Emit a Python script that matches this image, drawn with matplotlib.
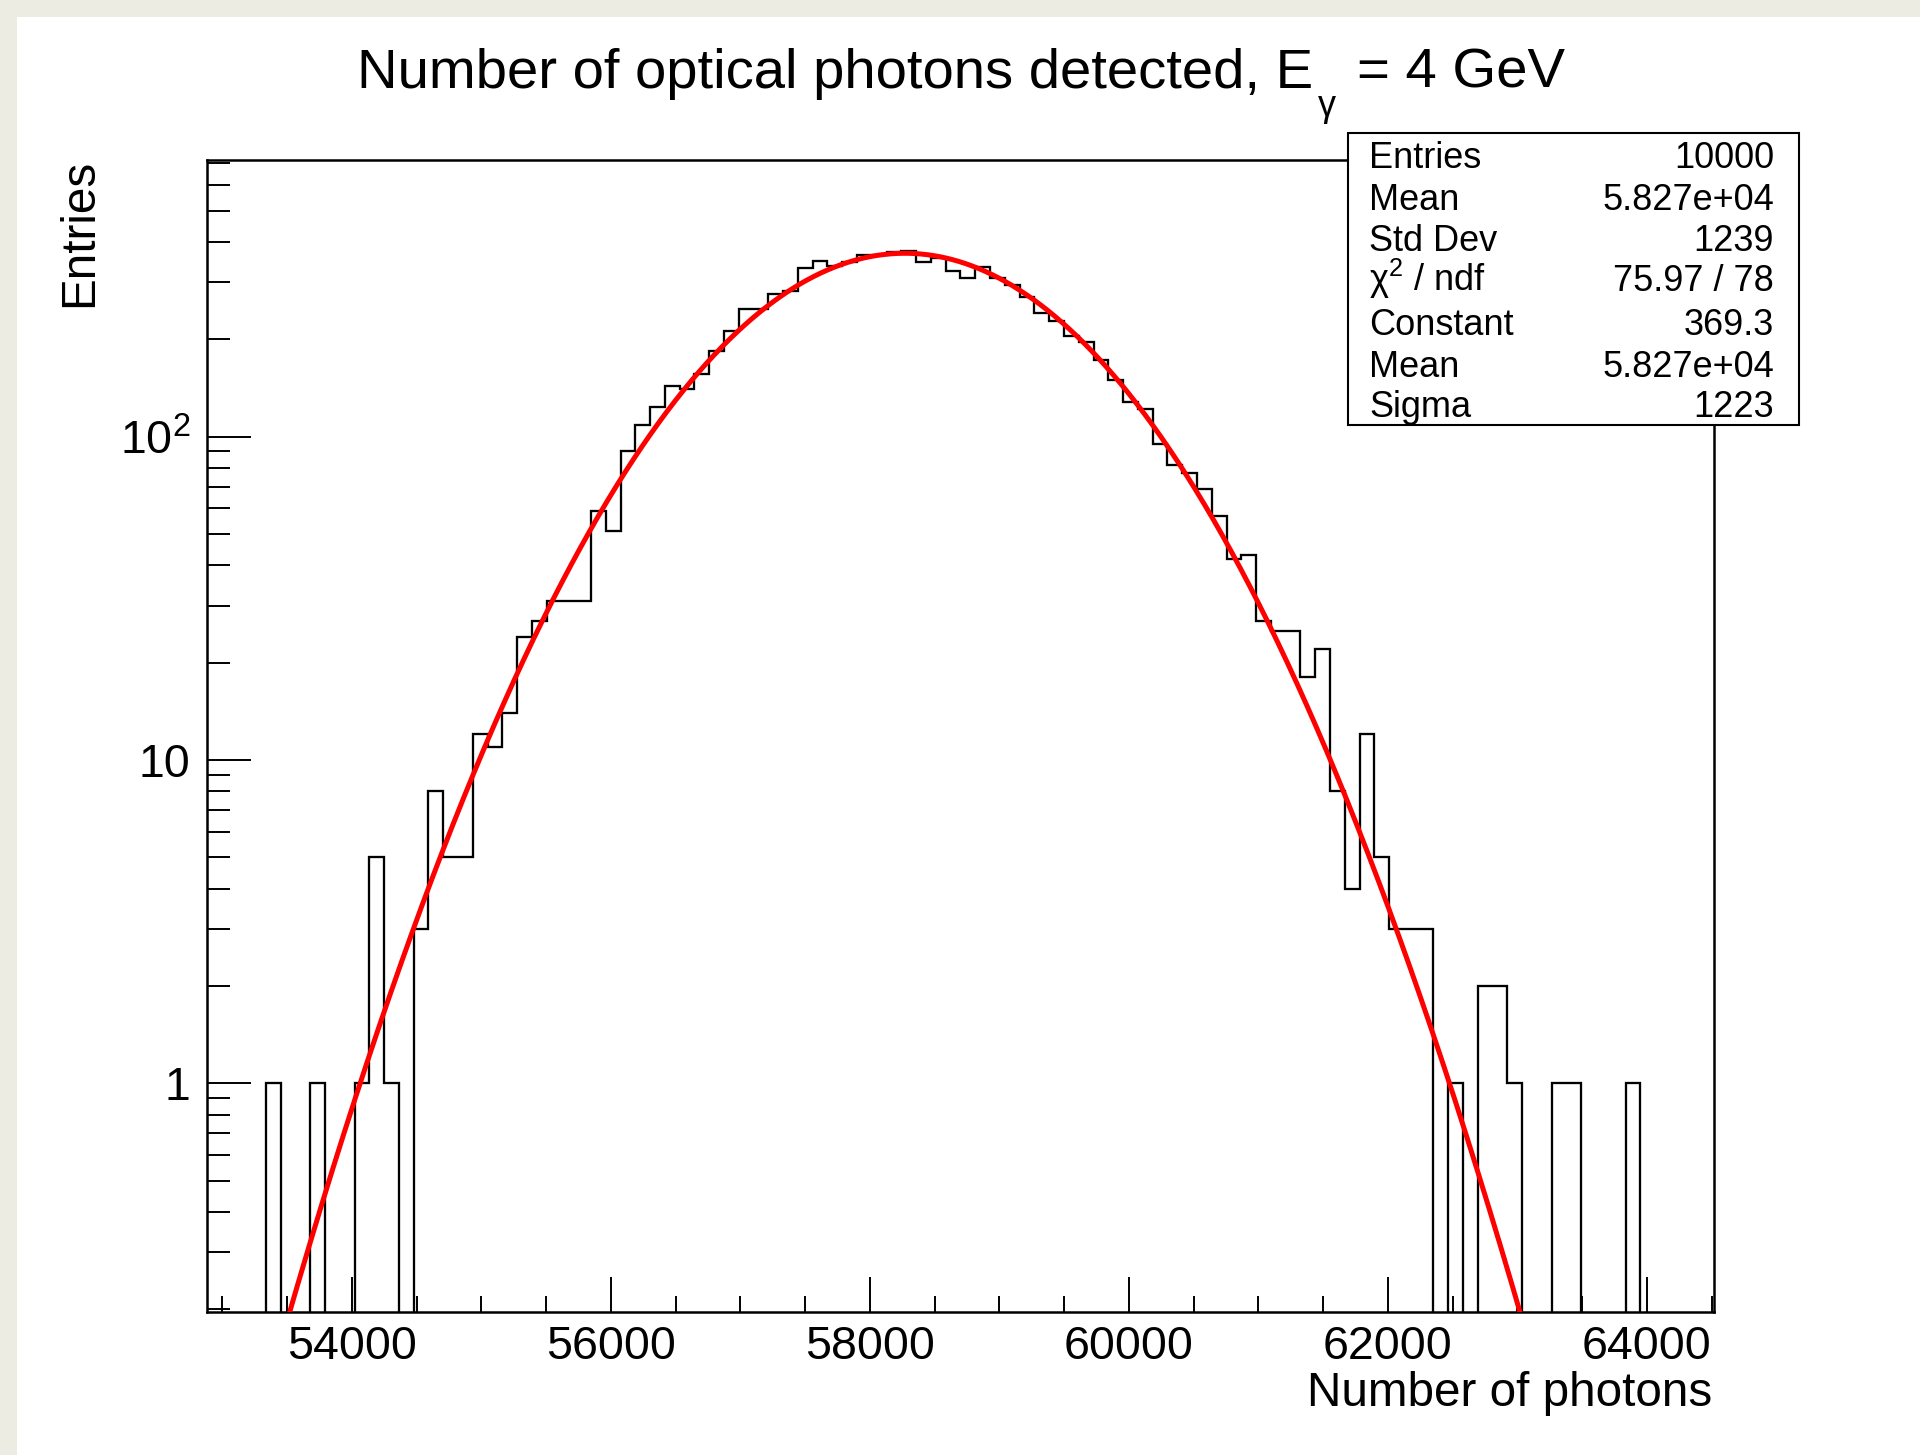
import numpy as np
import matplotlib
matplotlib.use("Agg")
import matplotlib.pyplot as plt
from matplotlib.patches import Rectangle
from matplotlib.ticker import FixedLocator, FixedFormatter, NullFormatter, MultipleLocator

plt.rcParams['font.family'] = ['Liberation Sans', 'DejaVu Sans']
plt.rcParams['mathtext.fontset'] = 'custom'
plt.rcParams['mathtext.rm'] = 'Liberation Sans'
plt.rcParams['mathtext.it'] = 'Liberation Sans:italic'

# histogram binning (102 bins) and bin contents
x_min, x_max = 52880.0, 64520.0
counts = [0, 0, 0, 0, 1, 0, 0, 1, 0, 0,
          1, 5, 1, 0, 3, 8, 5, 5, 12, 11,
          14, 24, 27, 31, 31, 31, 59, 51, 90, 109,
          124, 144, 140, 156, 184, 212, 248, 248, 277, 282,
          333, 350, 337, 347, 366, 364, 372, 375, 347, 356,
          325, 309, 336, 310, 294, 271, 242, 228, 205, 196,
          173, 150, 128, 122, 95, 82, 77, 69, 57, 42,
          43, 27, 25, 25, 18, 22, 8, 4, 12, 5,
          3, 3, 3, 0, 1, 0, 2, 2, 1, 0,
          0, 1, 1, 0, 0, 0, 1, 0, 0, 0,
          0, 0]

# gaussian fit parameters (from stats box)
fit_const = 369.3
fit_mean = 58270.0
fit_sigma = 1223.0

stat_labels = ["Entries", "Mean", "Std Dev", "χ$^{2}$ / ndf", "Constant", "Mean", "Sigma"]
stat_values = ["10000", "5.827e+04", "1239", "75.97 / 78", "369.3", "5.827e+04", "1223"]

x_ticks = [54000, 56000, 58000, 60000, 62000, 64000]
y_ticks = [1, 10, 100]
y_tick_labels = ["1", "10", r"$10^{2}$"]

W, H = 1920, 1455


def fx(px):
    return px / W


def fy(py):
    return 1 - py / H


fig = plt.figure(figsize=(W / 100, H / 100), dpi=100, facecolor='#ECECE2')
fig.patches.append(Rectangle((fx(17), 0), 1, fy(17), transform=fig.transFigure,
                             facecolor='white', edgecolor='none', zorder=-10))

left, right, top, bottom = 206.7, 1714.3, 160.4, 1312.3
ax = fig.add_axes([fx(left), fy(bottom), (right - left) / W, (bottom - top) / H])

edges = np.linspace(x_min, x_max, len(counts) + 1)
vals = np.array(counts, dtype=float)
draw_vals = np.where(vals > 0, vals, 1e-3)  # empty bins drop to the bottom of the frame
ax.stairs(draw_vals, edges, baseline=None, color='black', lw=1.65, zorder=2)

xf = np.linspace(x_min, x_max, 2000)
yf = fit_const * np.exp(-0.5 * ((xf - fit_mean) / fit_sigma) ** 2)
ax.plot(xf, yf, color='#FF0000', lw=3.6, zorder=3)

ax.set_yscale('log')
ax.set_xlim(x_min, x_max)
ax.set_ylim(0.1957, 715.6)

ax.xaxis.set_major_locator(FixedLocator(x_ticks))
ax.xaxis.set_minor_locator(MultipleLocator(500))
ax.yaxis.set_major_locator(FixedLocator(y_ticks))
ax.yaxis.set_major_formatter(FixedFormatter(y_tick_labels))
ax.yaxis.set_minor_locator(matplotlib.ticker.LogLocator(base=10, subs=np.arange(2, 10)))
ax.yaxis.set_minor_formatter(NullFormatter())

ax.tick_params(axis='both', which='both', direction='in', top=False, right=False,
               width=1.4, color='black')
ax.tick_params(axis='x', which='major', length=25, pad=9, labelsize=33.5)
ax.tick_params(axis='x', which='minor', length=11.5)
ax.tick_params(axis='y', which='major', length=32, pad=11.5, labelsize=33.5)
ax.tick_params(axis='y', which='minor', length=16.5)
for s in ax.spines.values():
    s.set_linewidth(1.8)
    s.set_color('black')

# title
fig.text(fx(1313), fy(88), "Number of optical photons detected, E", ha='right',
         va='baseline', fontsize=40.5)
fig.text(fx(1327), fy(107), "γ", ha='center', va='center', fontsize=26)
fig.text(fx(1357), fy(88), "= 4 GeV", ha='left', va='baseline', fontsize=40.5)

# axis titles
fig.text(fx(80), fy(159), "Entries", rotation=90, ha='center', va='top', fontsize=34.3)
fig.text(fx(1712), fy(1406), "Number of photons", ha='right', va='baseline', fontsize=34.3)

# stats box
fig.patches.append(Rectangle((fx(1348), fy(425)), (1799 - 1348) / W, (425 - 132.7) / H,
                             transform=fig.transFigure, facecolor='white',
                             edgecolor='black', lw=1.5, zorder=5))
baselines = [168, 210.5, 251, 291, 335, 377, 417]
for lab, val, yb in zip(stat_labels, stat_values, baselines):
    fig.text(fx(1369), fy(yb), lab, ha='left', va='baseline', fontsize=26, zorder=6)
    fig.text(fx(1774), fy(yb), val, ha='right', va='baseline', fontsize=26, zorder=6)

fig.savefig("out.png", dpi=100, facecolor=fig.get_facecolor())
